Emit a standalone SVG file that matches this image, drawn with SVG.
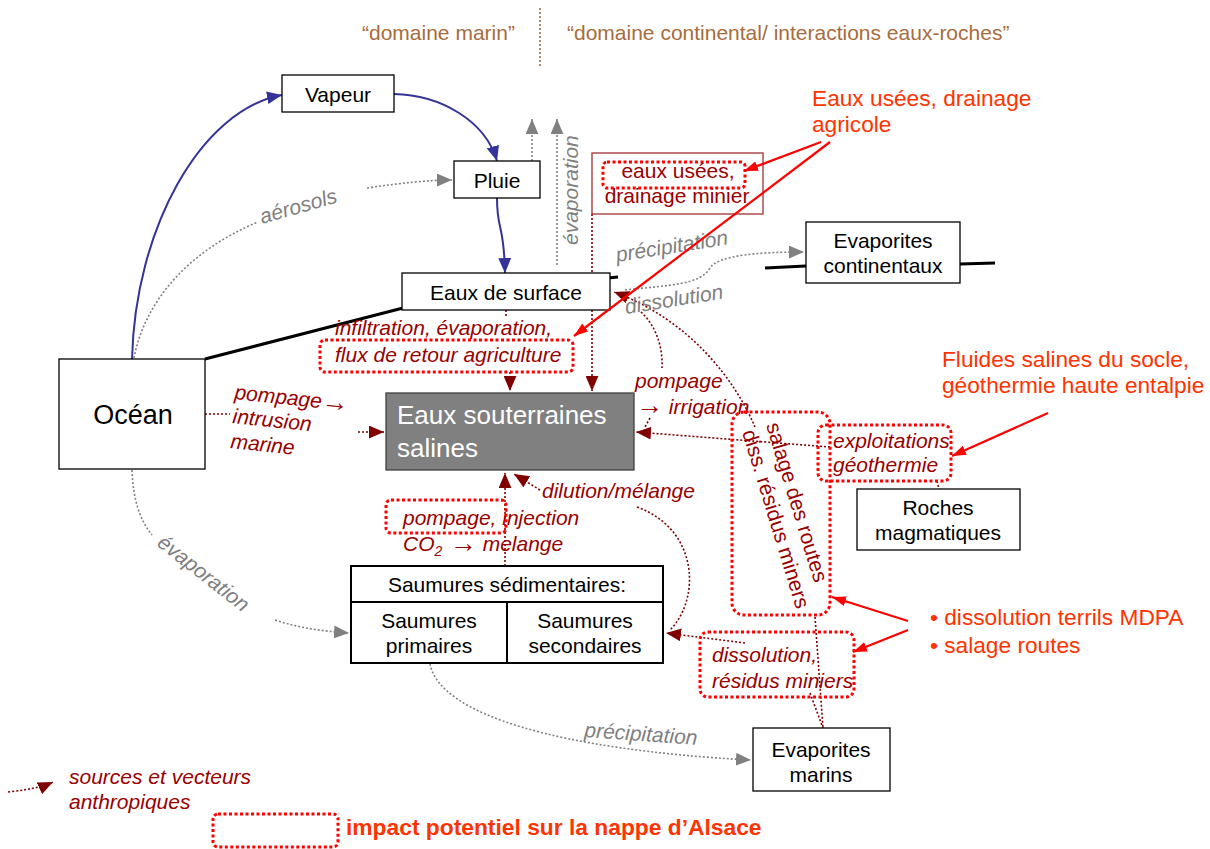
<svg xmlns="http://www.w3.org/2000/svg" width="1210" height="849" viewBox="0 0 1210 849">
<defs>
<style>
text{font-family:"Liberation Sans",Arial,sans-serif;font-size:21px}
.nb{fill:#fff;stroke:#000;stroke-width:1.3}
.nt{fill:#000;text-anchor:middle}
.it{fill:#990000;font-style:italic}
.dt{fill:#990000}
.gi{fill:#808080;font-style:italic}
.or{fill:#ff3300;font-size:22.7px}
.hd{fill:#a86c3c}
.ar{font-size:27px;font-style:normal}
.rb{fill:none;stroke:#ff0000;stroke-width:3;stroke-dasharray:3 2.5}
.dr{fill:none;stroke:#800000;stroke-width:1.6;stroke-dasharray:2 2}
.gr{fill:none;stroke:#808080;stroke-width:1.6;stroke-dasharray:2 2}
.bl{fill:none;stroke:#333399;stroke-width:2}
.rs{fill:none;stroke:#ff0000;stroke-width:2.2}
.bk{fill:none;stroke:#000;stroke-width:3}
</style>
<marker id="mb" viewBox="0 0 14 12" refX="14" refY="6" markerWidth="15" markerHeight="13" markerUnits="userSpaceOnUse" orient="auto"><path d="M0,0 L14,6 L0,12 z" fill="#333399"/></marker>
<marker id="mg" viewBox="0 0 14 12" refX="14" refY="6" markerWidth="15" markerHeight="13" markerUnits="userSpaceOnUse" orient="auto"><path d="M0,0 L14,6 L0,12 z" fill="#808080"/></marker>
<marker id="md" viewBox="0 0 14 12" refX="14" refY="6" markerWidth="15" markerHeight="13" markerUnits="userSpaceOnUse" orient="auto"><path d="M0,0 L14,6 L0,12 z" fill="#800000"/></marker>
<marker id="mr" viewBox="0 0 14 10" refX="14" refY="5" markerWidth="14" markerHeight="10" markerUnits="userSpaceOnUse" orient="auto"><path d="M0,0 L14,5 L0,10 z" fill="#ff0000"/></marker>
</defs>

<g id="header">
<text class="hd" x="362" y="40">“domaine marin”</text>
<line x1="540" y1="8" x2="540" y2="66" stroke="#a86c3c" stroke-width="1.6" stroke-dasharray="2 2"/>
<text class="hd" x="567" y="40">“domaine continental/ interactions eaux-roches”</text>
</g>

<g id="connectors">
<line class="bk" x1="205" y1="359" x2="403" y2="308"/>
<line class="bk" x1="608" y1="278" x2="618" y2="277"/>
<line class="bk" x1="765" y1="268" x2="806" y2="266"/>
<line class="bk" x1="960" y1="264" x2="995" y2="263"/>
<path class="bl" d="M132,359 C135,230 200,110 282,95" marker-end="url(#mb)"/>
<path class="bl" d="M394,94 C440,95 485,120 497,161" marker-end="url(#mb)"/>
<path class="bl" d="M497,198 C497,232 504,222 505,273" marker-end="url(#mb)"/>
<path class="gr" d="M134,358 C145,300 190,250 258,222"/>
<path class="gr" d="M367,188 C400,183 430,180 452,180" marker-end="url(#mg)"/>
<path class="gr" d="M532,161 L532,119" marker-end="url(#mg)"/>
<path class="gr" d="M557,265 L557,119" marker-end="url(#mg)"/>
<path class="gr" d="M625,290 C670,285 700,285 710,268 C718,255 760,252 804,252" marker-end="url(#mg)"/>
<path class="gr" d="M132,470 C133,500 140,520 152,535"/>
<path class="gr" d="M275,620 C300,628 320,631 349,633" marker-end="url(#mg)"/>
<path class="gr" d="M430,664 C440,715 560,750 751,760" marker-end="url(#mg)"/>
<path class="dr" d="M205,414 L230,414"/>
<path class="dr" d="M358,432 L384,432" marker-end="url(#md)"/>
<path class="dr" d="M506,310 L506,318"/>
<path class="dr" d="M510,372 L510,391" marker-end="url(#md)"/>
<path class="dr" d="M592,214 L592,391" marker-end="url(#md)"/>
<path class="dr" d="M641,312 C655,325 663,345 662,368"/>
<path class="dr" d="M650,418 L645,427"/>
<path class="dr" d="M755,427 C735,380 690,320 614,292" marker-end="url(#md)"/>
<path class="dr" d="M815,617 L823,728"/>
<path class="dr" d="M810,693 L823,728"/>
<path class="dr" d="M830,447 L636,432" marker-end="url(#md)"/>
<path class="dr" d="M937,481 L939,489"/>
<path class="dr" d="M505,566 L505,473" marker-end="url(#md)"/>
<path class="dr" d="M540,490 L514,474" marker-end="url(#md)"/>
<path class="dr" d="M637,507 C700,530 700,600 670,630"/>
<path class="dr" d="M745,643 L666,633" marker-end="url(#md)"/>
</g>

<g id="vapeur"><rect class="nb" x="282" y="75" width="112" height="37"/><text class="nt" x="338" y="102">Vapeur</text></g>
<g id="pluie"><rect class="nb" x="454" y="161" width="86" height="37"/><text class="nt" x="497" y="188">Pluie</text></g>
<g id="eaux-surface"><rect class="nb" x="402" y="273" width="208" height="37"/><text class="nt" x="506" y="300">Eaux de surface</text></g>
<g id="ocean"><rect class="nb" x="59" y="359" width="146" height="110"/><text class="nt" x="133" y="424" style="font-size:27px">Océan</text></g>
<g id="eaux-souterraines"><rect x="386" y="393" width="248" height="77" fill="#808080" stroke="#404040" stroke-width="1.3"/><text x="397" y="424" fill="#fff" style="font-size:26px">Eaux souterraines</text><text x="397" y="457" fill="#fff" style="font-size:26px">salines</text></g>
<g id="evaporites-continentaux"><rect class="nb" x="806" y="222" width="154" height="61"/><text class="nt" x="883" y="248">Evaporites</text><text class="nt" x="883" y="273">continentaux</text></g>
<g id="roches-magmatiques"><rect class="nb" x="857" y="489" width="163" height="61"/><text class="nt" x="938" y="515">Roches</text><text class="nt" x="938" y="540">magmatiques</text></g>
<g id="saumures"><rect x="351" y="566" width="312" height="97" fill="#fff" stroke="#000" stroke-width="2"/><line x1="351" y1="602" x2="663" y2="602" stroke="#000" stroke-width="2"/><line x1="507" y1="602" x2="507" y2="663" stroke="#000" stroke-width="2"/><text class="nt" x="507" y="592">Saumures sédimentaires:</text><text class="nt" x="429" y="628">Saumures</text><text class="nt" x="429" y="653">primaires</text><text class="nt" x="585" y="628">Saumures</text><text class="nt" x="585" y="653">secondaires</text></g>
<g id="evaporites-marins"><rect class="nb" x="753" y="728" width="137" height="63"/><text class="nt" x="821" y="757">Evaporites</text><text class="nt" x="821" y="782">marins</text></g>

<g id="eaux-usees-minier"><rect x="592" y="153" width="171" height="61" fill="none" stroke="#a03030" stroke-width="1.3"/><rect class="rb" x="603" y="162" width="142" height="26" rx="4"/><text class="dt" x="678" y="178" text-anchor="middle">eaux usées,</text><text class="dt" x="677" y="203" text-anchor="middle">drainage minier</text></g>

<g id="labels">
<text class="gi" transform="translate(262,224) rotate(-16)">aérosols</text>
<text class="gi" transform="translate(578,245) rotate(-90)">évaporation</text>
<text class="gi" transform="translate(617,262) rotate(-9)">précipitation</text>
<text class="gi" transform="translate(626,314) rotate(-9)">dissolution</text>
<text class="gi" transform="translate(156,545) rotate(38)">évaporation</text>
<text class="gi" transform="translate(584,737) rotate(4)">précipitation</text>
<text class="it" transform="translate(234,399) rotate(6)">pompage<tspan class="ar" dy="1">→</tspan></text>
<text class="it" transform="translate(232,423) rotate(6)">intrusion</text>
<text class="it" transform="translate(230,448) rotate(6)">marine</text>
<text class="it" x="335" y="335">infiltration, évaporation,</text>
<text class="it" x="335" y="362">flux de retour agriculture</text>
<text class="it" x="635" y="388">pompage</text>
<text class="it" x="636" y="414"><tspan class="ar">→</tspan> irrigation</text>
<text class="it" x="542" y="498">dilution/mélange</text>
<text class="it" x="403" y="525">pompage, injection</text>
<text class="it" x="403" y="551">CO<tspan dy="5" style="font-size:14px">2</tspan><tspan dy="-4" class="ar"> →</tspan><tspan dy="-1"> melange</tspan></text>
<text class="it" x="833" y="448">exploitations</text>
<text class="it" x="833" y="472">géothermie</text>
<text class="it" x="712" y="662">dissolution,</text>
<text class="it" x="712" y="688">résidus miniers</text>
<g transform="translate(766,425) rotate(73)"><text class="dt" x="0" y="0">salage des routes</text><text class="dt" x="0" y="25">diss. résidus miners</text></g>
</g>

<g id="impact-boxes">
<rect class="rb" x="320" y="340" width="253" height="32" rx="5"/>
<rect class="rb" x="386" y="500" width="120" height="33" rx="5"/>
<rect class="rb" x="732" y="412" width="98" height="203" rx="12"/>
<rect class="rb" x="818" y="425" width="133" height="56" rx="8"/>
<rect class="rb" x="700" y="632" width="154" height="65" rx="8"/>
</g>

<g id="annotations">
<text class="or" x="812" y="106">Eaux usées, drainage</text>
<text class="or" x="812" y="132">agricole</text>
<text class="or" x="942" y="367">Fluides salines du socle,</text>
<text class="or" x="942" y="393">géothermie haute entalpie</text>
<text class="or" x="930" y="625">• dissolution terrils MDPA</text>
<text class="or" x="930" y="653">• salage routes</text>
<path class="rs" d="M821,142 L744,171" marker-end="url(#mr)"/>
<path class="rs" d="M830,142 L574,336" marker-end="url(#mr)"/>
<path class="rs" d="M1048,413 L952,456" marker-end="url(#mr)"/>
<path class="rs" d="M908,621 L832,597" marker-end="url(#mr)"/>
<path class="rs" d="M908,630 L853,652" marker-end="url(#mr)"/>
</g>

<g id="legend">
<path class="dr" d="M8,792 C25,790 40,788 53,782" marker-end="url(#md)"/>
<text class="it" x="69" y="784">sources et vecteurs</text>
<text class="it" x="69" y="809">anthropiques</text>
<rect class="rb" x="213" y="814" width="125" height="33" rx="5"/>
<text x="346" y="835" fill="#ff3300" style="font-weight:bold;font-size:22.8px">impact potentiel sur la nappe d’Alsace</text>
</g>
</svg>
